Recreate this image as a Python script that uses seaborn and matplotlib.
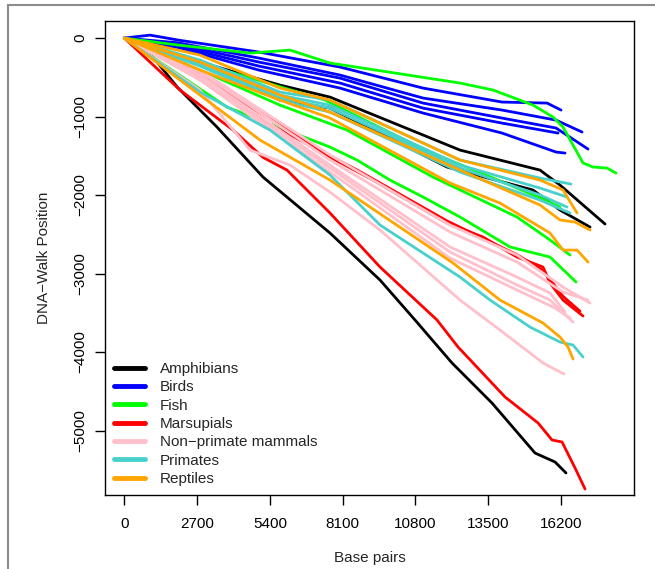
import pandas as pd
import matplotlib.pyplot as plt
import matplotlib.patches as mpatches
from matplotlib.lines import Line2D
import seaborn as sns

# DNA walk curves (x = base pairs, y = walk position)
amphibians_x = [
    [0, 1065, 1962, 3439, 5146, 7630, 9485, 10783, 12156, 13639, 15234, 15976, 16383],
    [0, 2808, 5775, 7630, 12452, 15419, 16161, 17830],
    [0, 2808, 5775, 7630, 11970, 15160, 16161, 17274],
]
amphibians_y = [
    [0, -242, -624, -1134, -1771, -2484, -3083, -3592, -4140, -4650, -5287, -5401, -5541],
    [0, -306, -599, -752, -1427, -1682, -1873, -2369],
    [0, -344, -790, -892, -1643, -1936, -2191, -2408],
]

birds_x = [
    [0, 953, 1992, 4996, 8000, 11079, 14009, 15679, 16198],
    [0, 1992, 4996, 8000, 11079, 14009, 16013, 16977],
    [0, 1992, 4996, 8000, 11079, 14009, 16013, 17199],
    [0, 1992, 4996, 8000, 11079, 14009, 16087],
    [0, 1992, 4996, 8000, 11079, 14009, 16013, 16346],
]
birds_y = [
    [0, 38, -25, -178, -369, -637, -815, -828, -917],
    [0, -60, -255, -471, -764, -917, -1045, -1197],
    [0, -80, -306, -510, -828, -1019, -1146, -1414],
    [0, -100, -357, -573, -892, -1083, -1210],
    [0, -120, -408, -637, -955, -1210, -1452, -1465],
]

fish_x = [
    [0, 1992, 4663, 6146, 7630, 12452, 13676, 15160, 15901, 16272, 17014, 17385, 17904, 18238],
    [0, 2808, 7444, 11153, 13861, 15346, 16161],
    [0, 2808, 5775, 8260, 11450, 14566, 15790, 16532],
    [0, 3809, 7630, 8631, 9855, 11079, 12452, 14307, 15790, 16755],
]
fish_y = [
    [0, -89, -191, -153, -318, -573, -662, -854, -1006, -1134, -1592, -1643, -1656, -1720],
    [0, -318, -790, -1427, -1809, -2025, -2153],
    [0, -408, -854, -1172, -1771, -2280, -2573, -2764],
    [0, -879, -1389, -1554, -1809, -2025, -2280, -2662, -2790, -3108],
]

marsupials_x = [
    [0, 2066, 4032, 5145, 6035, 7630, 9485, 11599, 12378, 14122, 15346, 15865, 16236, 16718, 17088],
    [0, 2808, 4292, 7630, 9225, 11970, 13305, 14566, 15531, 15790, 16272, 17014],
    [0, 2808, 5404, 8631, 11970, 14566, 15531, 16272, 16900],
]
marsupials_y = [
    [0, -662, -1172, -1520, -1682, -2229, -2917, -3592, -3936, -4573, -4904, -5121, -5146, -5478, -5745],
    [0, -471, -790, -1516, -1809, -2357, -2535, -2790, -2917, -3121, -3338, -3541],
    [0, -450, -1100, -1680, -2330, -2760, -2960, -3290, -3480],
]

nonprimate_x = [
    [0, 2808, 7630, 12082, 14566, 16272, 17274],
    [0, 2808, 7630, 12082, 14566, 16272, 17199],
    [0, 2808, 7630, 12082, 14566, 15790, 16346],
    [0, 2808, 7630, 12082, 14566, 15790, 16643],
    [0, 2808, 7630, 12082, 14566, 15976, 16532],
    [0, 2808, 4663, 6146, 7630, 9485, 12452, 13935, 15531, 16309],
]
nonprimate_y = [
    [0, -408, -1490, -2382, -2764, -3172, -3376],
    [0, -433, -1554, -2471, -2854, -3236, -3338],
    [0, -471, -1618, -2662, -3045, -3248, -3490],
    [0, -510, -1656, -2726, -3146, -3338, -3618],
    [0, -535, -1707, -2803, -3210, -3439, -3567],
    [0, -662, -1427, -1618, -1962, -2446, -3338, -3720, -4140, -4280],
]

primates_x = [
    [0, 2808, 5775, 7630, 12452, 15419, 16569],
    [0, 2808, 5775, 7630, 12452, 15419, 16420],
    [0, 2808, 5775, 7630, 12452, 15419, 16420],
    [0, 2808, 5775, 7630, 12452, 15419, 16532],
    [0, 2808, 5404, 7630, 9485, 12452, 13565, 15048, 16161, 16643, 17014],
]
primates_y = [
    [0, -280, -688, -790, -1554, -1783, -1860],
    [0, -306, -726, -854, -1618, -1911, -2025],
    [0, -331, -764, -892, -1656, -2000, -2153],
    [0, -357, -790, -943, -1707, -2064, -2229],
    [0, -688, -1172, -1745, -2382, -3045, -3338, -3682, -3873, -3911, -4064],
]

reptiles_x = [
    [0, 2808, 5775, 7630, 12452, 15419, 16272, 16792],
    [0, 2808, 5775, 7630, 12452, 15419, 16161, 16718, 17274],
    [0, 2808, 5775, 7630, 12082, 13935, 15790, 16272, 16792, 17199],
    [0, 2808, 5033, 7630, 12193, 13935, 15531, 16161, 16457, 16643],
]
reptiles_y = [
    [0, -217, -637, -790, -1554, -1809, -1936, -2229],
    [0, -306, -726, -943, -1682, -2127, -2318, -2344, -2446],
    [0, -408, -790, -1019, -1847, -2102, -2484, -2701, -2701, -2854],
    [0, -726, -1299, -1809, -2866, -3338, -3631, -3809, -3936, -4089],
]

groups = ['Amphibians', 'Birds', 'Fish', 'Marsupials', 'Non\u2212primate mammals', 'Primates', 'Reptiles']
colors = ['black', '#0000FF', '#00FF00', '#FF0000', '#FFC0CB', '#48D1CC', '#FFA500']
xticks = [0, 2700, 5400, 8100, 10800, 13500, 16200]
yticks = [0, -1000, -2000, -3000, -4000, -5000]

series = [
    (amphibians_x, amphibians_y), (birds_x, birds_y), (fish_x, fish_y),
    (marsupials_x, marsupials_y), (nonprimate_x, nonprimate_y),
    (primates_x, primates_y), (reptiles_x, reptiles_y),
]

rows = []
for g, (xs, ys) in zip(groups, series):
    for i, (xx, yy) in enumerate(zip(xs, ys)):
        for a, b in zip(xx, yy):
            rows.append({'bp': a, 'pos': b, 'group': g, 'line': f'{g}_{i}'})
df = pd.DataFrame(rows)

sns.set_style("white")
plt.rcParams['font.family'] = ['Liberation Sans', 'DejaVu Sans']

fig = plt.figure(figsize=(6.55, 5.69), dpi=100)
ax = fig.add_axes([0.1603, 0.130, 0.8077, 0.8334])

sns.lineplot(data=df, x='bp', y='pos', hue='group', units='line', estimator=None,
             sort=False, palette=dict(zip(groups, colors)), linewidth=2,
             legend=False, ax=ax)

ax.set_xlim(-716, 18906)
ax.set_ylim(-5822, 220)
ax.set_xticks(xticks)
ax.set_yticks(yticks)
ax.set_xticklabels([str(t) for t in xticks], fontsize=11)
ax.set_yticklabels([str(t).replace('-', '\u2212') for t in yticks], fontsize=11,
                   rotation=90, va='center')
ax.tick_params(axis='x', direction='out', length=7, width=1, colors='black', pad=9,
               bottom=True)
ax.tick_params(axis='y', direction='out', length=7, width=1, colors='black', pad=6,
               left=True)
for s in ax.spines.values():
    s.set_color('black')
    s.set_linewidth(1)
ax.set_xlabel('Base pairs', fontsize=11, labelpad=14)
ax.set_ylabel('DNA\u2212Walk Position', fontsize=11, labelpad=16)

handles = [Line2D([0], [0], color=c, lw=3.5) for c in colors]
ax.legend(handles, groups, loc='lower left', bbox_to_anchor=(0.0, 0.0),
          frameon=False, fontsize=11, handlelength=2.0, handletextpad=1.0,
          labelspacing=0.28, borderaxespad=0.2)

# grey frame of the original screenshot
fig.add_artist(mpatches.Rectangle((8 / 655, -0.1), 1.2, 1.1 - 5 / 569,
                                  transform=fig.transFigure, fill=False,
                                  edgecolor='#8c8c8c', lw=1.5, clip_on=False))

plt.savefig('out.png', dpi=100)
